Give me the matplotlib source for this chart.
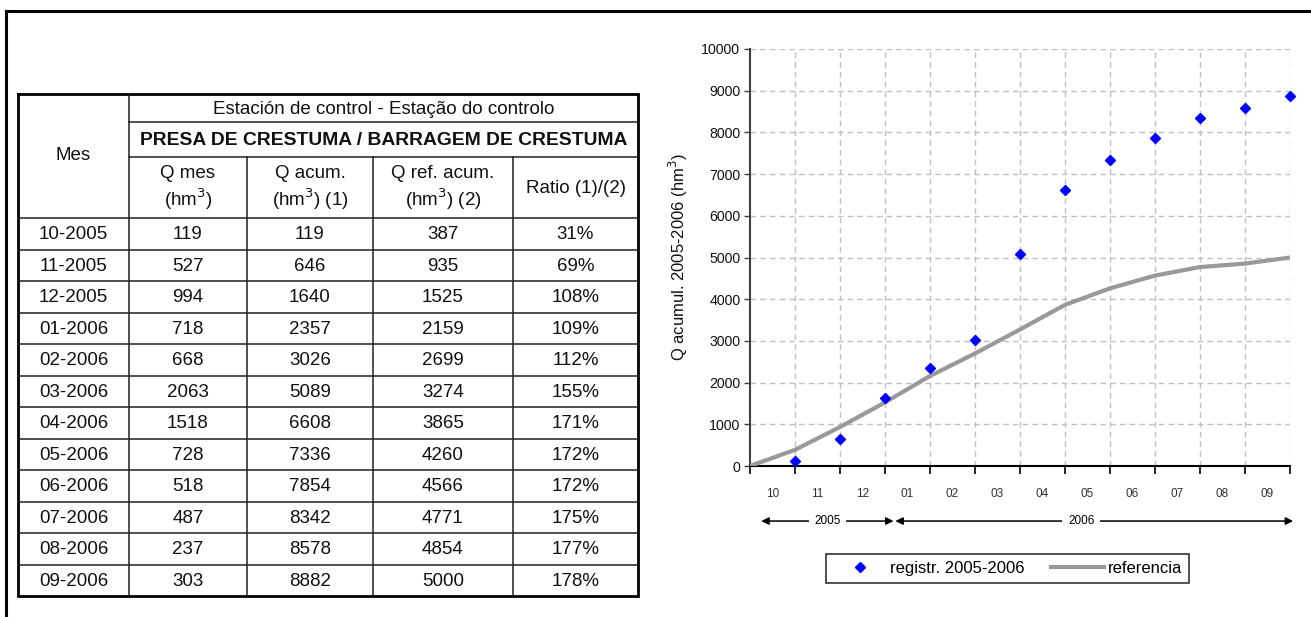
import matplotlib
matplotlib.use("Agg")
import matplotlib.pyplot as plt
from matplotlib.lines import Line2D

plt.rcParams['font.family'] = ['Liberation Sans', 'DejaVu Sans']

# ---------------- data ----------------
months = ['10-2005', '11-2005', '12-2005', '01-2006', '02-2006', '03-2006',
          '04-2006', '05-2006', '06-2006', '07-2006', '08-2006', '09-2006']
q_mes = [119, 527, 994, 718, 668, 2063, 1518, 728, 518, 487, 237, 303]
q_acum = [119, 646, 1640, 2357, 3026, 5089, 6608, 7336, 7854, 8342, 8578, 8882]
q_ref = [387, 935, 1525, 2159, 2699, 3274, 3865, 4260, 4566, 4771, 4854, 5000]
ratio = ['31%', '69%', '108%', '109%', '112%', '155%', '171%', '172%', '172%',
         '175%', '177%', '178%']
month_ticks = ['10', '11', '12', '01', '02', '03', '04', '05', '06', '07', '08', '09']
ref_start = 0
y_ticks = [0, 1000, 2000, 3000, 4000, 5000, 6000, 7000, 8000, 9000, 10000]

W, H = 1311, 617
fig = plt.figure(figsize=(W / 100, H / 100), dpi=100)

# ---------------- background / table (pixel coordinates) ----------------
bg = fig.add_axes([0, 0, 1, 1])
bg.set_xlim(0, W)
bg.set_ylim(H, 0)
bg.axis('off')

# outer frame
bg.plot([6, 6], [11, H + 5], color='black', lw=2.2, solid_capstyle='projecting')
bg.plot([6, W + 5], [11, 11], color='black', lw=2.2, solid_capstyle='projecting')

tx0, tx1 = 18, 638
cols = [18, 129, 247, 373, 513, 638]
ty_top, ty_est, ty_presa, ty_head = 94, 122, 157, 218
ty_bot = 596
n = len(months)
rh = (ty_bot - ty_head) / n

lc = '#202020'
bg.plot([tx0, tx1, tx1, tx0, tx0], [ty_top, ty_top, ty_bot, ty_bot, ty_top],
        color='black', lw=2.0, solid_joinstyle='miter')
bg.plot([cols[1], tx1], [ty_est, ty_est], color=lc, lw=1.1)
bg.plot([cols[1], tx1], [ty_presa, ty_presa], color=lc, lw=1.1)
bg.plot([tx0, tx1], [ty_head, ty_head], color=lc, lw=1.1)
for i in range(1, n):
    y = ty_head + i * rh
    bg.plot([tx0, tx1], [y, y], color=lc, lw=1.1)
bg.plot([cols[1], cols[1]], [ty_top, ty_bot], color=lc, lw=1.1)
for c in cols[2:5]:
    bg.plot([c, c], [ty_presa, ty_bot], color=lc, lw=1.1)

fs = 13.5
tcol = '#111111'
bg.text((cols[1] + tx1) / 2, (ty_top + ty_est) / 2 + 1,
        'Estación de control - Estação do controlo', ha='center', va='center',
        fontsize=fs, color=tcol)
bg.text((cols[1] + tx1) / 2, (ty_est + ty_presa) / 2 + 1,
        'PRESA DE CRESTUMA / BARRAGEM DE CRESTUMA', ha='center', va='center',
        fontsize=13.9, fontweight='bold', color=tcol)
bg.text((cols[0] + cols[1]) / 2, (ty_top + ty_head) / 2, 'Mes', ha='center',
        va='center', fontsize=fs, color=tcol)
hdrs = ['Q mes\n(hm$^3$)', 'Q acum.\n(hm$^3$) (1)', 'Q ref. acum.\n(hm$^3$) (2)', 'Ratio (1)/(2)']
for j, h in enumerate(hdrs):
    bg.text((cols[j + 1] + cols[j + 2]) / 2, (ty_presa + ty_head) / 2 + 1, h,
            ha='center', va='center', fontsize=fs, linespacing=1.2, color=tcol)

for i in range(n):
    yc = ty_head + (i + 0.5) * rh + 1
    row = [months[i], str(q_mes[i]), str(q_acum[i]), str(q_ref[i]), ratio[i]]
    for j, v in enumerate(row):
        bg.text((cols[j] + cols[j + 1]) / 2, yc, v, ha='center', va='center',
                fontsize=fs, color=tcol)

# ---------------- chart ----------------
ax_l, ax_r, ax_t, ax_b = 750, 1290, 49, 466
ax = fig.add_axes([ax_l / W, (H - ax_b) / H, (ax_r - ax_l) / W, (ax_b - ax_t) / H])
ax.set_zorder(2)
ax.patch.set_alpha(0)

xs = list(range(1, n + 1))
ax.plot([0] + xs, [ref_start] + q_ref, color='#999999', lw=3, zorder=3,
        solid_capstyle='butt')
ax.plot(xs, q_acum, linestyle='none', marker='D', markersize=5.5, color='#0000FF',
        markeredgecolor='#0000FF', zorder=4, clip_on=False)

ax.set_xlim(0, 12)
ax.set_ylim(0, 10000)
ax.set_yticks(y_ticks)
ax.set_yticklabels([str(v) for v in y_ticks], fontsize=10.2, color='#111111')
ax.set_xticks(range(0, 13))
ax.set_xticklabels([])
ax.tick_params(axis='x', direction='out', length=6, width=1.2, color='black')
ax.tick_params(axis='y', direction='out', length=4, width=1, color='#404040', pad=3)
for s in ['top', 'right']:
    ax.spines[s].set_visible(False)
ax.spines['left'].set_color('#404040')
ax.spines['left'].set_linewidth(1.5)
ax.spines['bottom'].set_color('black')
ax.spines['bottom'].set_linewidth(1.5)

for v in y_ticks[1:]:
    ax.axhline(v, color='#c0c0c0', lw=1, ls=(0, (4, 3)), zorder=1)
for x in xs:
    ax.axvline(x, color='#c0c0c0', lw=1, ls=(0, (4, 3)), zorder=1)

for k, lab in enumerate(month_ticks):
    ax.text(k + 0.5, -0.066, lab, transform=ax.get_xaxis_transform(),
            ha='center', va='center', fontsize=8.5, color='#333333')

ax.set_ylabel('Q acumul. 2005-2006 (hm$^3$)', fontsize=12, labelpad=8, color='#111111')

# year arrows
yarr = -0.132
tr = ax.get_xaxis_transform()
for (x0, x1, xt, lab) in [(0.25, 3.19, 1.72, '2005'), (3.23, 12.07, 7.36, '2006')]:
    ax.annotate('', xy=(x0, yarr), xytext=(x1, yarr), xycoords=tr, textcoords=tr,
                arrowprops=dict(arrowstyle='<|-|>', color='black', lw=1.1,
                                mutation_scale=11, shrinkA=0, shrinkB=0),
                annotation_clip=False)
    ax.text(xt, yarr, lab, transform=tr, ha='center', va='center', fontsize=8.5,
            bbox=dict(facecolor='white', edgecolor='none', pad=4), clip_on=False)

# legend
handles = [Line2D([], [], linestyle='none', marker='D', markersize=5, color='#0000FF'),
           Line2D([], [], color='#999999', lw=3)]
leg = fig.legend(handles, ['registr. 2005-2006', 'referencia'], ncol=2,
                 loc='center', bbox_to_anchor=((829 + 1186) / 2 / W, (H - 568.5) / H),
                 frameon=True, fancybox=False, edgecolor='black', fontsize=12,
                 handlelength=3.2, columnspacing=1.6, borderpad=0.4, handletextpad=0.2)
leg.get_frame().set_linewidth(1.2)

fig.savefig('out.png', dpi=100)
